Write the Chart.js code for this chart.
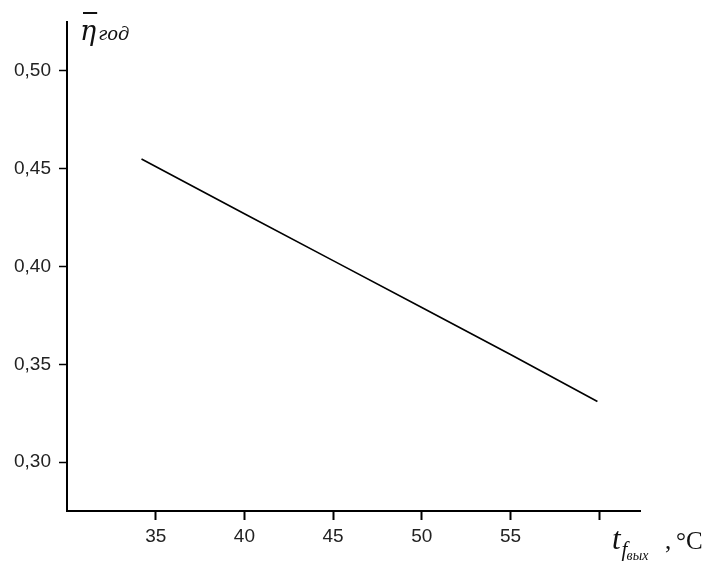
<!DOCTYPE html>
<html>
<head>
<meta charset="UTF-8">
<title>η год vs t f вых</title>
<script src="https://cdn.jsdelivr.net/npm/chart.js"></script>
<style>
  body { margin: 0; background: #fff; }
  #chart { display: block; }
</style>
</head>
<body>
<canvas id="chart" width="704" height="561"></canvas>
<script>
// --- данные ---
const tempValues = [34.2, 40, 45, 50, 55, 59.9];
const etaValues = [0.455, 0.427, 0.403, 0.379, 0.355, 0.331];
const xTicks = [35, 40, 45, 50, 55, 60];
const yTicks = [0.30, 0.35, 0.40, 0.45, 0.50];

const points = tempValues.map((t, i) => ({ x: t, y: etaValues[i] }));

// подписи осей рисуем сами (индексы курсивом)
const axisTitles = {
    id: 'axisTitles',
    afterDraw(chart) {
        const ctx = chart.ctx;
        const area = chart.chartArea;
        ctx.save();
        ctx.fillStyle = '#111';
        ctx.textBaseline = 'alphabetic';
        ctx.textAlign = 'left';

        // η̄ год
        const ex = area.left + 13;
        ctx.font = 'italic 27px "DejaVu Serif", serif';
        ctx.fillText('η', ex, 40);
        const ew = ctx.measureText('η').width;
        ctx.strokeStyle = '#111';
        ctx.lineWidth = 2;
        ctx.beginPath();
        ctx.moveTo(ex + 3, 13);
        ctx.lineTo(ex + ew + 1, 13);
        ctx.stroke();
        ctx.font = 'italic 18px "DejaVu Serif", serif';
        ctx.fillText('год', ex + ew + 2, 40);

        // t f вых , °C
        const tx = 612;
        ctx.font = 'italic 31px "Liberation Serif", serif';
        ctx.fillText('t', tx, 549);
        const tw = ctx.measureText('t').width;
        ctx.font = 'italic 21px "Liberation Serif", serif';
        ctx.fillText('f', tx + tw + 1, 556);
        ctx.font = 'italic 14px "Liberation Serif", serif';
        ctx.fillText('вых', tx + tw + 6, 560);
        ctx.font = '25px "Liberation Serif", serif';
        ctx.fillText(',', 665, 549);
        ctx.fillText('°C', 676, 549);
        ctx.restore();
    }
};

new Chart(document.getElementById('chart'), {
    type: 'scatter',
    data: {
        datasets: [{
            data: points,
            showLine: true,
            borderColor: '#000',
            borderWidth: 1.6,
            pointRadius: 0,
            pointHoverRadius: 0,
            fill: false
        }]
    },
    options: {
        responsive: false,
        animation: false,
        events: [],
        layout: { padding: { top: 22, right: 64, left: 0, bottom: 0 } },
        plugins: { legend: { display: false }, tooltip: { enabled: false } },
        scales: {
            x: {
                type: 'linear',
                min: 30,
                max: 62.3,
                afterBuildTicks: s => { s.ticks = xTicks.map(v => ({ value: v })); },
                afterFit: s => { s.height = 50; },
                ticks: {
                    callback: v => (v === 60 ? '' : String(v)),
                    font: { family: '"Liberation Sans", Arial, sans-serif', size: 19 },
                    color: '#222',
                    padding: 5,
                    maxRotation: 0,
                    autoSkip: false
                },
                grid: { drawOnChartArea: false, drawTicks: true, tickLength: 9, tickWidth: 2, tickColor: '#000' },
                border: { display: true, color: '#000', width: 2 }
            },
            y: {
                type: 'linear',
                min: 0.275,
                max: 0.525,
                afterBuildTicks: s => { s.ticks = yTicks.map(v => ({ value: v })); },
                afterFit: s => { s.width = 67; },
                ticks: {
                    callback: v => v.toFixed(2).replace('.', ','),
                    font: { family: '"Liberation Sans", Arial, sans-serif', size: 19 },
                    color: '#222',
                    padding: 8,
                    autoSkip: false
                },
                grid: { drawOnChartArea: false, drawTicks: true, tickLength: 8, tickWidth: 1.5, tickColor: '#000' },
                border: { display: true, color: '#000', width: 2 }
            }
        }
    },
    plugins: [axisTitles]
});
</script>
</body>
</html>
